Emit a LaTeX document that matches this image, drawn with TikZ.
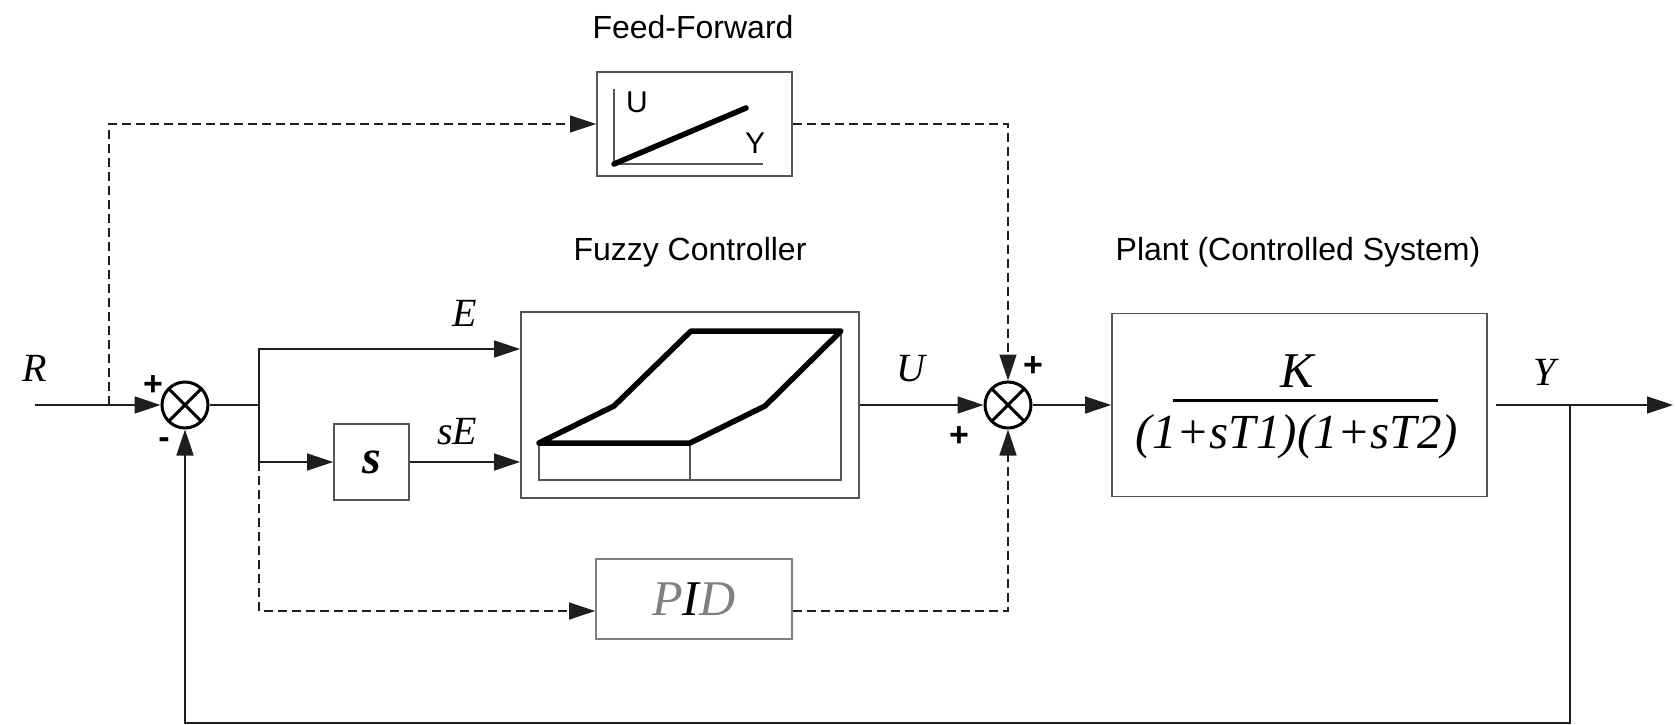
\documentclass[tikz,border=0pt]{standalone}
\usepackage{fontspec}
\setmainfont{Liberation Sans}
\newfontfamily\tms{Liberation Serif}
\usetikzlibrary{arrows.meta}
\definecolor{boxc}{RGB}{85,85,85}
\definecolor{pidc}{RGB}{128,128,128}
\definecolor{linec}{RGB}{30,30,30}
\begin{document}
\begin{tikzpicture}[x=1pt,y=-1pt,
  ln/.style={draw=linec,line width=1.6pt},
  dsh/.style={ln,dash pattern=on 9pt off 5pt},
  arr/.style={-{Triangle[length=26pt,width=17pt]}},
  blk/.style={draw=boxc,line width=1.8pt,inner sep=0pt,fill=white},
  sumc/.style={circle,draw=black,line width=3pt,minimum size=46pt,inner sep=0pt,
    path picture={\draw[line width=3pt] (path picture bounding box.north west) -- (path picture bounding box.south east)
      (path picture bounding box.north east) -- (path picture bounding box.south west);}},
  ttl/.style={font=\fontsize{32}{38}\selectfont},
  lbl/.style={font=\fontsize{40}{44}\selectfont\tms\itshape},
  sgn/.style={font=\fontsize{34}{36}\selectfont\bfseries},
  thick line/.style={line width=5.5pt,line cap=round,line join=round},
  thin line/.style={line width=1.5pt,draw=boxc}]
\useasboundingbox (0,0) rectangle (1675,725);

% blocks
\node[blk,minimum width=195pt,minimum height=104pt] (ff) at (694.5,124) {};
\node[blk,minimum width=338pt,minimum height=186pt] (fz) at (690,405) {};
\node[blk,minimum width=75pt,minimum height=76pt,font=\fontsize{48}{50}\selectfont\tms\bfseries\itshape] (sb) at (371.5,462) {s};
\node[blk,minimum width=375pt,minimum height=183pt] (pl) at (1299.5,405) {};
\node[blk,draw=pidc,minimum width=196pt,minimum height=80pt,font=\fontsize{50}{52}\selectfont\tms\itshape] (pid) at (694,599) {\textcolor{pidc}{P}I\textcolor{pidc}{D}};

% summing junctions
\node[sumc] (s1) at (185,405) {};
\node[sumc] (s2) at (1008,405) {};

% titles
\node[ttl] (tff) at (693,27) {Feed-Forward};
\node[ttl] (tfz) at (690,252) {Fuzzy Controller};
\node[ttl] (tpl) at (1298,252) {Plant (Controlled System)};

% signal labels
\node[lbl] (lR) at (35,368) {R};
\node[lbl] (lE) at (465,313) {E};
\node[lbl] (lsE) at (457,432) {sE};
\node[lbl] (lU) at (911,369) {U};
\node[lbl] (lY) at (1545,372) {Y};

% signs
\node[sgn] (p1) at (153,386) {+};
\node[sgn] (m1) at (164,443) {-};
\node[sgn] (p2) at (1033,367) {+};
\node[sgn] (p3) at (959,437) {+};

% plant transfer function
\node[font=\fontsize{50}{52}\selectfont\tms\itshape] (num) at (1297,371) {K};
\node[font=\fontsize{49}{50}\selectfont\tms\itshape] (den) at (1297,437) {(1+sT1)(1+sT2)};
\draw[line width=3pt] (1173,400) -- (1438,400);

% feed-forward characteristic
\draw[thin line] (614,89) -- (614,164) -- (763,164);
\draw[thick line] (614,164) -- (746,108);
\node[font=\fontsize{30}{32}\selectfont] (fU) at (637,102) {U};
\node[font=\fontsize{30}{32}\selectfont] (fY) at (755,143) {Y};

% fuzzy characteristic
\draw[thin line] (539,443) -- (539,480) -- (841,480) -- (841,331);
\draw[thin line] (690,443) -- (690,480);
\draw[thick line] (539,443) -- (614,406) -- (691,331) -- (841,331) -- (765,406) -- (690,443) -- cycle;

% coordinates
\coordinate (Rin) at (35,405);
\coordinate (b1) at (109,405);
\coordinate (b2) at (259,405);
\coordinate (b3) at (259,462);
\coordinate (b4) at (1570,405);
\coordinate (fb) at (1570,723);
\coordinate (yout) at (1673,405);

% connectors
\draw[ln,arr] (Rin) -- (s1.west);
\draw[dsh,arr] (b1) |- (ff.west);
\draw[ln] (s1.east) -- (b2);
\draw[ln,arr] (b2) |- ([yshift=56pt]fz.west);
\draw[ln,arr] (b2) |- (sb.west);
\draw[ln,arr] (sb.east) -- ([yshift=-57pt]fz.west);
\draw[dsh,arr] (b3) |- ([yshift=-12pt]pid.west);
\draw[dsh,arr] ([yshift=-12pt]pid.east) -| (s2.south);
\draw[dsh,arr] (ff.east) -| (s2.north);
\draw[ln,arr] (fz.east) -- (s2.west);
\draw[ln,arr] (s2.east) -- (pl.west);
\draw[ln,arr,shorten <=8pt] (pl.east |- yout) -- (yout);
\draw[ln,arr] (b4) -- (fb) -| (s1.south);
\end{tikzpicture}
\end{document}
